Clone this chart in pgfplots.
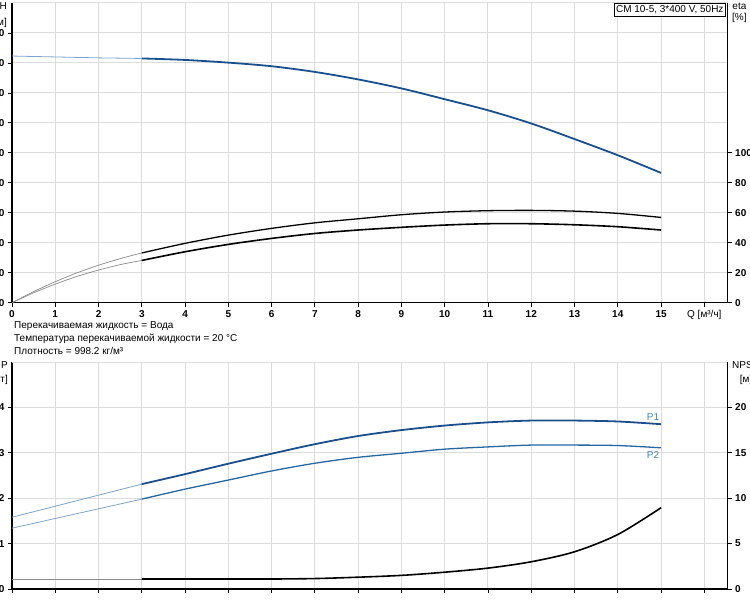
\documentclass[border=0pt]{standalone}
\usepackage{pgfplots}
\pgfplotsset{compat=1.18}
\usepackage{fontspec}
\setmainfont{Liberation Sans}
\definecolor{gridc}{HTML}{DCDCDC}
\definecolor{hblue}{HTML}{1A4F8E}
\definecolor{hthin}{HTML}{7EA3C8}
\definecolor{p1c}{HTML}{1B4F8C}
\definecolor{p2c}{HTML}{2566A3}
\definecolor{lblc}{HTML}{3A86BA}
\definecolor{thinb}{HTML}{8A8A8A}
\begin{document}
\begin{tikzpicture}[x=1pt,y=1pt]
\useasboundingbox (0,0) rectangle (750,600);
\pgfplotsset{
  base/.style={scale only axis, width=715.7pt, xmin=0, xmax=16.54, xtick={0,...,16},
    tick align=outside, major tick length=4pt,
    axis line style={-,black,line width=1.2pt}, tick style={black,line width=0.8pt},
    ticklabel style={font=\bfseries\fontsize{10}{12}\selectfont},
    /pgf/number format/assume math mode=true,
    grid style={gridc,line width=1pt}}
}
% ---------- top: H ----------
\begin{axis}[base, at={(12pt,297.3pt)}, anchor=south west, height=299.7pt,
  ymin=0, ymax=100, ytick={0,10,...,90}, axis x line*=bottom, axis y line*=left,
  grid=major, extra y ticks={100}, extra y tick labels={}, extra y tick style={major tick length=0pt},
  xticklabels={0,1,2,3,4,5,6,7,8,9,10,11,12,13,14,15,{\mdseries Q [м³/ч]}}]
\addplot[hthin, line width=0.8pt, smooth] coordinates {(0,82.3)(1,82.0)(2,81.7)(3,81.5)};
\addplot[hblue, line width=1.8pt, smooth] coordinates {(3,81.5)(4,81.0)(5,80.1)(6,78.9)(7,77.0)(8,74.5)(9,71.5)(10,67.9)(11,64.2)(12,59.8)(13,54.6)(14,49.2)(15,43.3)};
\end{axis}
% ---------- top: eta ----------
\begin{axis}[base, at={(12pt,297.3pt)}, anchor=south west, height=299.7pt,
  ymin=0, ymax=200, ytick={0,20,...,100}, axis x line=none, axis y line*=right]
\addplot[thinb, line width=0.7pt, smooth] coordinates {(0,0)(0.5,7.4)(1,14.0)(1.5,19.9)(2,25.0)(2.5,29.4)(3,33.2)};
\addplot[black, line width=1.3pt, smooth] coordinates {(3,33.2)(4,39.6)(5,45.1)(6,49.6)(7,53.3)(8,56.0)(9,58.7)(10,60.5)(11,61.4)(12,61.6)(13,61.1)(14,59.6)(15,56.9)};
\addplot[thinb, line width=0.7pt, smooth] coordinates {(0,0)(0.5,6.6)(1,12.4)(1.5,17.5)(2,21.8)(2.5,25.4)(3,28.2)};
\addplot[black, line width=1.6pt, smooth] coordinates {(3,28.2)(4,34.0)(5,38.9)(6,42.9)(7,46.2)(8,48.5)(9,50.3)(10,51.8)(11,52.7)(12,52.7)(13,52.0)(14,50.7)(15,48.5)};
\end{axis}
% ---------- bottom: P ----------
\begin{axis}[base, at={(12pt,11pt)}, anchor=south west, height=227pt,
  ymin=0, ymax=5, ytick={0,1,2,3,4}, axis x line*=bottom, axis y line*=left,
  grid=major, extra y ticks={5}, extra y tick labels={}, extra y tick style={major tick length=0pt},
  xticklabels={}]
\addplot[hthin, line width=0.8pt] coordinates {(0,1.58)(3,2.31)};
\addplot[p1c, line width=1.8pt, smooth] coordinates {(3,2.31)(4,2.53)(5,2.76)(6,2.98)(7,3.19)(8,3.37)(9,3.50)(10,3.60)(11,3.67)(12,3.71)(13,3.71)(14,3.69)(15,3.63)};
\addplot[hthin, line width=0.8pt] coordinates {(0,1.34)(3,1.98)};
\addplot[p2c, line width=1.3pt, smooth] coordinates {(3,1.98)(4,2.20)(5,2.40)(6,2.60)(7,2.77)(8,2.90)(9,2.99)(10,3.08)(11,3.13)(12,3.17)(13,3.17)(14,3.16)(15,3.11)};
\end{axis}
% ---------- bottom: NPSH ----------
\begin{axis}[base, at={(12pt,11pt)}, anchor=south west, height=227pt,
  ymin=0, ymax=25, ytick={0,5,...,20}, axis x line=none, axis y line*=right]
\addplot[thinb, line width=0.7pt] coordinates {(0,1.1)(3,1.1)};
\addplot[black, line width=1.6pt, smooth] coordinates {(3,1.1)(4,1.1)(5,1.1)(6,1.1)(7,1.15)(8,1.3)(9,1.5)(10,1.85)(11,2.3)(12,3.0)(13,4.1)(14,6.0)(15,8.95)};
\end{axis}
% ---------- texts ----------
\node[anchor=north east, align=right, inner sep=0pt, font=\fontsize{10}{16}\selectfont] at (7,598) {H\\{[м]}};
\node[anchor=north west, align=center, inner sep=0pt, font=\fontsize{10}{11}\selectfont] at (732,597) {eta\\{[\%]}};
\node[anchor=north east, align=right, inner sep=0pt, font=\fontsize{10}{14}\selectfont] at (8,239) {P\\{[кВт]}};
\node[anchor=north west, align=center, inner sep=0pt, font=\fontsize{10}{14}\selectfont] at (732,239) {NPSH\\{[м]}};
\node[draw=black, line width=0.6pt, fill=white, inner sep=2.2pt, anchor=north east, font=\fontsize{10}{11}\selectfont] at (726,597) {CM 10-5, 3*400 V, 50Hz};
\node[anchor=west, inner sep=0pt, font=\fontsize{10}{11}\selectfont] at (14,274) {Перекачиваемая жидкость = Вода};
\node[anchor=west, inner sep=0pt, font=\fontsize{10}{11}\selectfont] at (14,261) {Температура перекачиваемой жидкости = 20 °C};
\node[anchor=west, inner sep=0pt, font=\fontsize{10}{11}\selectfont] at (14,249) {Плотность = 998.2 кг/м³};
\node[lblc, inner sep=0pt, font=\fontsize{10}{11}\selectfont] at (653,183) {P1};
\node[lblc, inner sep=0pt, font=\fontsize{10}{11}\selectfont] at (653,145) {P2};
\end{tikzpicture}
\end{document}
